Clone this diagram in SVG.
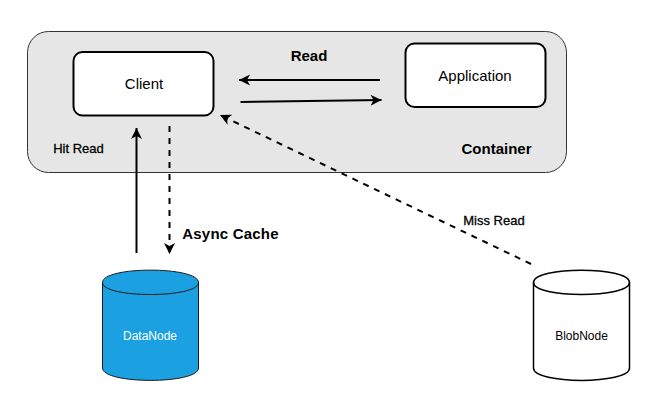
<svg xmlns="http://www.w3.org/2000/svg" width="661" height="411" viewBox="0 0 661 411">
<style>
text{font-family:"Liberation Sans",Arial,sans-serif;fill:#000;text-anchor:middle}
.b{font-weight:bold}
.n{font-size:15px}
.s{font-size:12px}
.m{font-size:13px;stroke:#000;stroke-width:.3px}
.c{stroke:#000;stroke-width:2;fill:none}
.d{stroke-dasharray:6 6}
.box{fill:#fff;stroke:#000;stroke-width:2}
</style>
<defs>
<marker id="a" markerUnits="userSpaceOnUse" markerWidth="12" markerHeight="12" refX="11" refY="6" orient="auto" viewBox="0 0 12 12"><path d="M0 0.500L11 6L0 11.500L3 6Z" fill="#000"/></marker>
</defs>
<rect width="661" height="411" fill="#fff"/>
<g id="container">
<rect x="27.500" y="31.500" width="539" height="141" rx="21" fill="#e6e6e6" stroke="#333" stroke-width="1"/>
<text class="b n" x="496.500" y="153.500">Container</text>
<text class="m" x="78.500" y="153">Hit Read</text>
</g>
<g id="client">
<rect class="box" x="73.500" y="52" width="140" height="63.500" rx="9"/>
<text class="n" x="144" y="88.500">Client</text>
</g>
<g id="application">
<rect class="box" x="405.500" y="43.500" width="140" height="63.500" rx="9"/>
<text class="n" x="475" y="80.500">Application</text>
</g>
<g id="datanode">
<path d="M102.500 282.500C102.500 266 198.500 266 198.500 282.500V368C198.500 384.500 102.500 384.500 102.500 368Z" fill="#1ba1e2" stroke="#1a1a1a" stroke-width="1"/>
<path d="M102.500 282.500C102.500 298.500 198.500 298.500 198.500 282.500" fill="none" stroke="#1a1a1a" stroke-width="1"/>
<text class="s" x="150" y="340" style="fill:#fff">DataNode</text>
</g>
<g id="blobnode">
<path d="M533.500 282.500C533.500 266 629.500 266 629.500 282.500V368C629.500 384.500 533.500 384.500 533.500 368Z" fill="#fff" stroke="#000" stroke-width="1.500"/>
<path d="M533.500 282.500C533.500 298.500 629.500 298.500 629.500 282.500" fill="none" stroke="#000" stroke-width="1.500"/>
<text class="s" x="581.500" y="340">BlobNode</text>
</g>
<g id="connectors">
<path class="c" d="M380 80H239" marker-end="url(#a)"/>
<path class="c" d="M240.500 102L381.500 100" marker-end="url(#a)"/>
<path class="c" d="M136.500 253V128" marker-end="url(#a)"/>
<path class="c d" d="M169.500 126V254" marker-end="url(#a)"/>
<path class="c d" d="M531 264L220 115" marker-end="url(#a)"/>
</g>
<g id="labels">
<text class="b n" x="309" y="60.500">Read</text>
<text class="b n" x="230.500" y="238.500" style="letter-spacing:.2px">Async Cache</text>
<text class="m" x="494" y="224.500">Miss Read</text>
</g>
</svg>
